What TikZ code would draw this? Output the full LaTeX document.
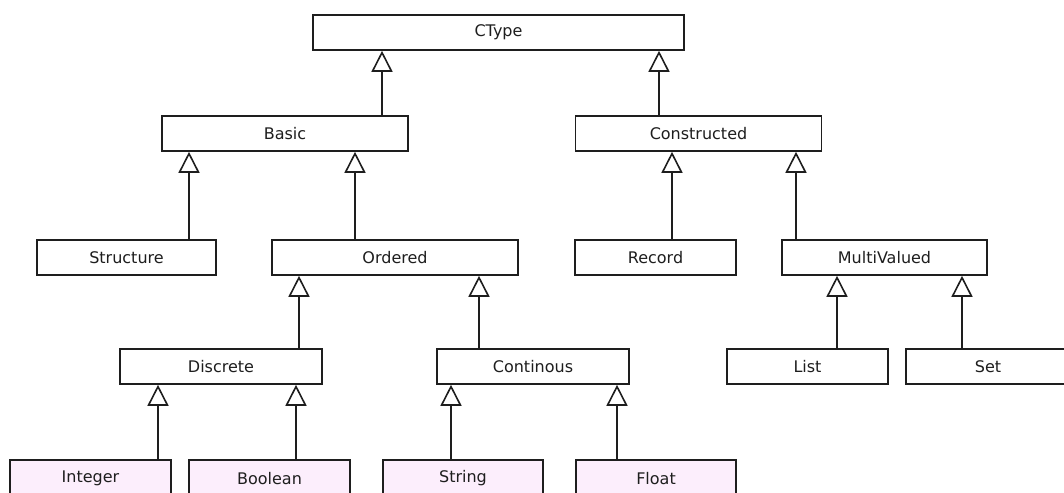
\documentclass[tikz,border=0pt]{standalone}
\usepackage{fontspec}
\setmainfont{DejaVu Sans}
\usetikzlibrary{arrows.meta}
\definecolor{leaf}{RGB}{252,238,252}
\definecolor{ink}{RGB}{30,30,30}
\tikzset{
  cls/.style={draw=ink, line width=1.6pt, rectangle, inner sep=0pt, fill=white,
    font=\fontsize{16}{19}\selectfont, text=ink},
  leafcls/.style={cls, fill=leaf},
  inh/.style={draw=ink, line width=1.6pt,
    -{Triangle[length=21pt, width=21pt, fill=white, line width=1.6pt]}}
}
\newcommand\inherit[3]{%
  \coordinate (tmpx) at (#3,0);
  \draw[inh] (#1.north -| tmpx) -- (#2.south -| tmpx);}
\begin{document}
\begin{tikzpicture}[x=1pt,y=-1pt]
\useasboundingbox (0,0) rectangle (1064,492);
\clip (0,0) rectangle (1064,492);
\fill[white] (0,0) rectangle (1064,492);
% row 1
\node[cls, minimum width=371pt, minimum height=35pt] (ctype) at (498.5,32.5) {CType};
% row 2
\node[cls, minimum width=246pt, minimum height=35pt] (basic) at (285,133.5) {Basic};
\node[cls, minimum width=246pt, minimum height=35pt] (constructed) at (698.5,133.5) {Constructed};
% row 3
\node[cls, minimum width=179pt, minimum height=35pt] (structure) at (126.5,257.5) {Structure};
\node[cls, minimum width=246pt, minimum height=35pt] (ordered) at (395,257.5) {Ordered};
\node[cls, minimum width=161pt, minimum height=35pt] (record) at (655.5,257.5) {Record};
\node[cls, minimum width=205pt, minimum height=35pt] (multivalued) at (884.5,257.5) {MultiValued};
% row 4
\node[cls, minimum width=202pt, minimum height=35pt] (discrete) at (221,366.5) {Discrete};
\node[cls, minimum width=192pt, minimum height=35pt] (continous) at (533,366.5) {Continous};
\node[cls, minimum width=161pt, minimum height=35pt] (list) at (807.5,366.5) {List};
\node[cls, minimum width=164pt, minimum height=35pt] (set) at (988,366.5) {Set};
% row 5
\node[leafcls, minimum width=161pt, minimum height=37pt] (integer) at (90.5,478.5) {Integer};
\node[leafcls, minimum width=161pt, minimum height=37pt] (boolean) at (269.5,478.5) {Boolean};
\node[leafcls, minimum width=160pt, minimum height=37pt] (string) at (463,478.5) {String};
\node[leafcls, minimum width=160pt, minimum height=37pt] (float) at (656,478.5) {Float};
% inheritance
\inherit{basic}{ctype}{382}
\inherit{constructed}{ctype}{659}
\inherit{structure}{basic}{189}
\inherit{ordered}{basic}{355}
\inherit{record}{constructed}{672}
\inherit{multivalued}{constructed}{796}
\inherit{discrete}{ordered}{299}
\inherit{continous}{ordered}{479}
\inherit{list}{multivalued}{837}
\inherit{set}{multivalued}{962}
\inherit{integer}{discrete}{158}
\inherit{boolean}{discrete}{296}
\inherit{string}{continous}{451}
\inherit{float}{continous}{617}
\end{tikzpicture}
\end{document}
